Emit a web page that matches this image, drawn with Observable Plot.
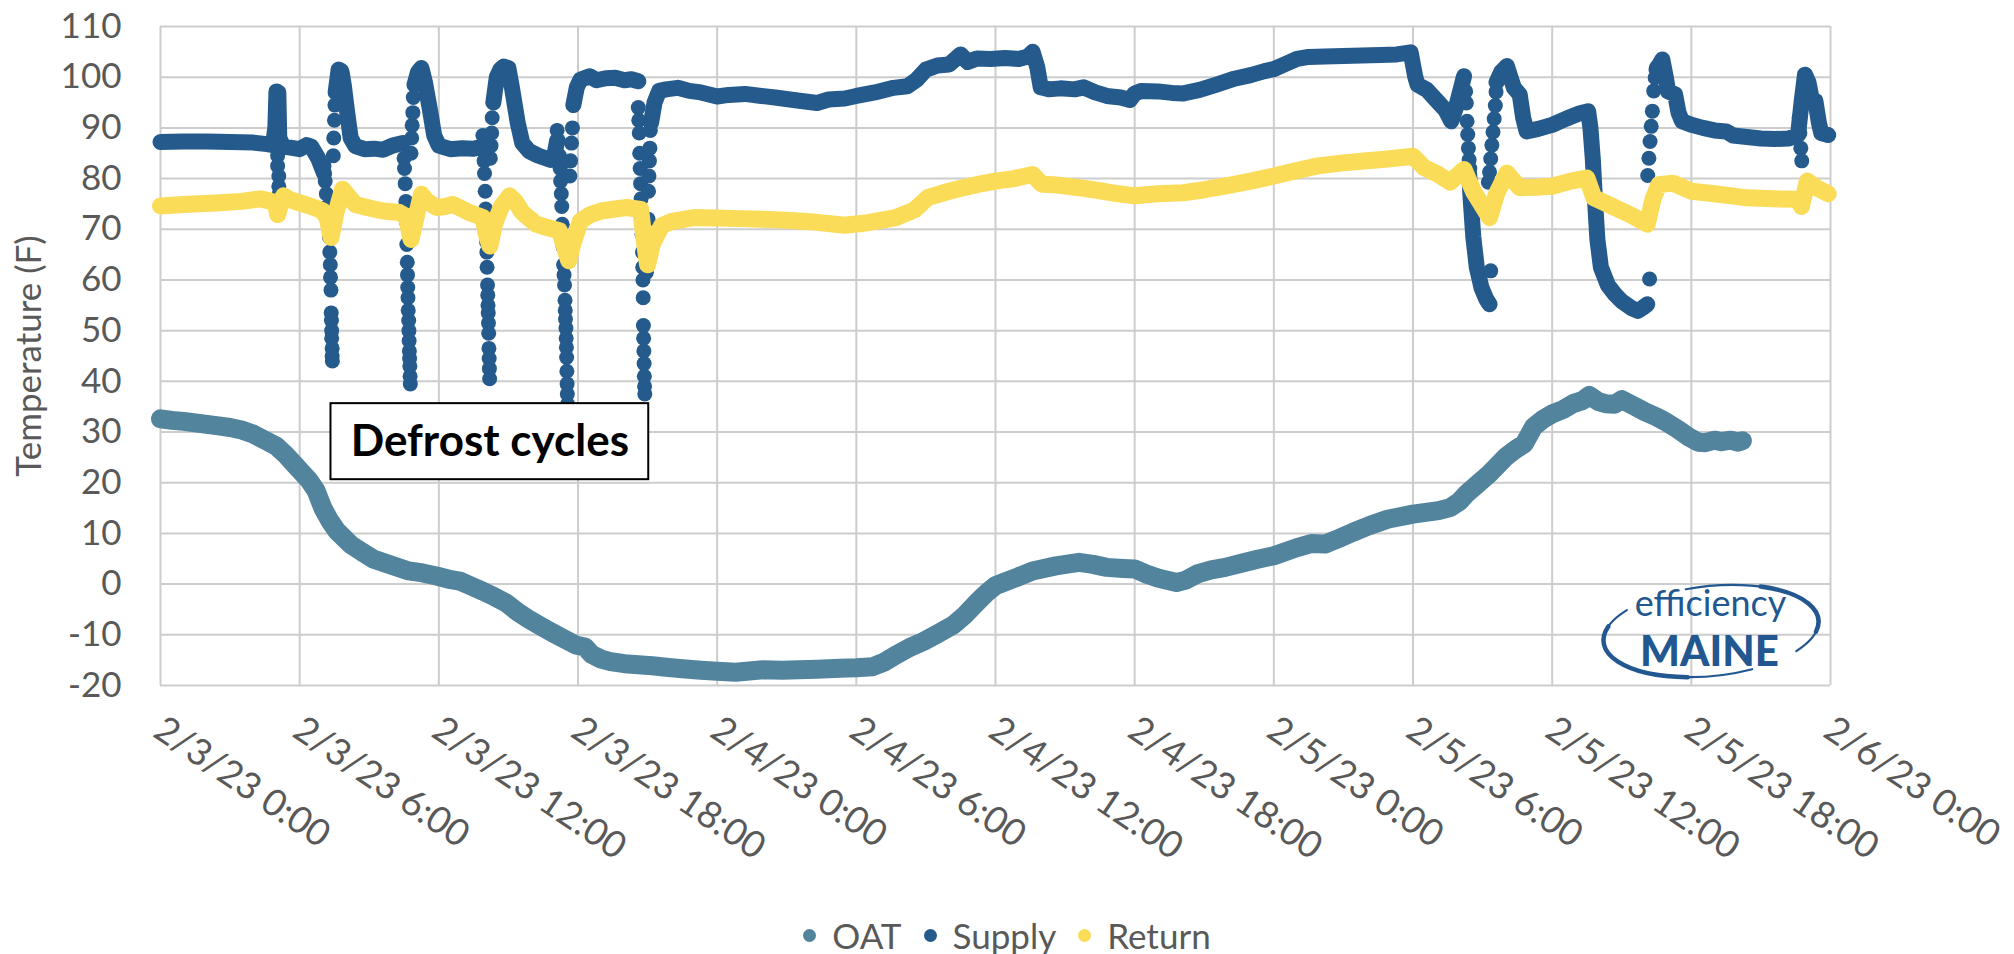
<!DOCTYPE html>
<html>
<head>
<meta charset="utf-8">
<script src="https://cdn.jsdelivr.net/npm/d3@7"></script>
<script src="https://cdn.jsdelivr.net/npm/@observablehq/plot@0.6"></script>
<style>
  html, body { margin: 0; padding: 0; background: #ffffff; }
  body { width: 2014px; height: 954px; overflow: hidden; font-family: Lato, "Open Sans", sans-serif; }
  #legend { display: flex; justify-content: center; align-items: center; height: 70px; font-size: 35px; color: #595959; }
  #legend .item { display: flex; align-items: center; margin: 0 11px; }
  #legend .sw { width: 13px; height: 13px; border-radius: 50%; margin-right: 16px; display: inline-block; }
</style>
</head>
<body>
<div id="chart"></div>
<div id="legend"></div>
<script>
// ---------- Data (hours since 2/3/23 0:00, temperature °F) ----------
const xTicks = [0, 6, 12, 18, 24, 30, 36, 42, 48, 54, 60, 66, 72];
const xTickLabels = ["2/3/23 0:00", "2/3/23 6:00", "2/3/23 12:00", "2/3/23 18:00", "2/4/23 0:00", "2/4/23 6:00",
  "2/4/23 12:00", "2/4/23 18:00", "2/5/23 0:00", "2/5/23 6:00", "2/5/23 12:00", "2/5/23 18:00", "2/6/23 0:00"];
const yTicks = [-20, -10, 0, 10, 20, 30, 40, 50, 60, 70, 80, 90, 100, 110];
const yLabel = "Temperature (F)";
const seriesNames = ["OAT", "Supply", "Return"];
const seriesColors = ["#52849e", "#255a8c", "#fadc58"];
const annotationText = "Defrost cycles";
const logoWords = ["efficiency", "MAINE"];

const oatHours = [0, 0.5, 1, 1.5, 2, 2.5, 3, 3.5, 4, 4.5, 5, 5.4, 5.8, 6.1, 6.4, 6.7, 7, 7.3, 7.6, 8.2, 8.7, 9.2, 9.9,
  10.7, 11.3, 11.9, 12.4, 12.9, 13.4, 13.9, 14.4, 14.9, 15.4, 15.9, 16.4, 16.9, 17.4, 17.9, 18.3, 18.6, 19, 19.4, 20,
  20.6, 21.2, 21.8, 22.5, 23.3, 24, 24.8, 25.5, 26, 26.8, 27.5, 28.3, 29.3, 30, 30.7, 31.2, 31.7, 32.3, 32.9, 33.5,
  34.2, 34.7, 35.2, 35.6, 36, 36.5, 36.9, 37.6, 38.6, 39.6, 40.2, 40.8, 41.5, 42, 42.5, 43, 43.8, 44.2, 44.7, 45.3,
  45.9, 46.6, 47.3, 48, 49, 49.6, 50.2, 50.8, 51.4, 52.1, 52.9, 54, 55.1, 55.6, 56, 56.3, 56.8, 57.3, 58, 58.4, 58.8,
  59.2, 59.6, 60, 60.5, 60.9, 61.3, 61.6, 62, 62.3, 62.7, 63, 63.5, 64, 64.5, 64.9, 65.4, 65.9, 66.3, 66.6, 67, 67.3,
  67.7, 68, 68.2];
const oatTemps = [32.6, 32.3, 32.1, 31.8, 31.5, 31.2, 30.9, 30.4, 29.6, 28.4, 27.2, 25.5, 23.5, 22, 20.5, 18.5, 15, 12.5,
  10.5, 7.8, 6.3, 4.9, 3.8, 2.6, 2.2, 1.6, 1.0, 0.6, -0.4, -1.4, -2.5, -3.7, -5.5, -7, -8.3, -9.6, -10.8, -12, -12.4,
  -13.9, -14.8, -15.3, -15.7, -15.9, -16.1, -16.4, -16.7, -17.0, -17.2, -17.4, -17.1, -16.9, -17.0, -16.9, -16.8,
  -16.6, -16.5, -16.3, -15.4, -14, -12.5, -11.3, -9.8, -8, -6, -3.6, -1.8, -0.3, 0.6, 1.3, 2.6, 3.6, 4.3, 3.9, 3.3, 3.1,
  3.0, 2.0, 1.2, 0.3, 0.8, 2.0, 2.8, 3.3, 4.1, 4.9, 5.6, 7.2, 8.0, 7.9, 9.0, 10.2, 11.5, 12.8, 13.8, 14.5, 15.1, 16.3,
  17.8, 19.8, 21.8, 25.1, 26.5, 27.7, 31, 32.5, 33.6, 34.5, 35.6, 36.2, 37.2, 36.0, 35.6, 35.5, 36.4, 35.2, 34.0, 33.0,
  32.0, 30.6, 29.0, 28.0, 27.9, 28.4, 28.1, 28.4, 28.0, 28.3];

// Supply: continuous stretches (null = gap where the readings were sparse)
const supplyHours = [0, 1, 2, 3, 4, 4.6, 4.85, 4.95, 5.0, 5.08, 5.12, 5.3, 5.6, 6.0, 6.3, 6.5, 6.8, 7.05, 7.1,
  7.55, 7.68, 7.8, 7.9, 8.05, 8.2, 8.4, 8.8, 9.2, 9.6, 10.0, 10.45, 10.5,
  10.95, 11.1, 11.25, 11.4, 11.6, 11.8, 12.0, 12.5, 13.0, 13.5, 13.85, 13.9,
  14.35, 14.5, 14.65, 14.8, 15.0, 15.15, 15.4, 15.6, 15.9, 16.3, 16.8, 17.0, 17.1, 17.15,
  17.8, 17.95, 18.1, 18.5, 18.8, 19.2, 19.6, 20.0, 20.3, 20.6, 20.65,
  21.15, 21.3, 21.5, 21.8, 22.3, 22.8, 23.3, 24.0, 24.5, 25.2, 25.9, 26.5, 27.3, 28.3, 28.8, 29.5, 30.0, 30.8, 31.6,
  32.2, 32.6, 33.0, 33.5, 34.0, 34.5, 34.8, 35.2, 35.8, 36.4, 37.0, 37.4, 37.6, 37.8, 37.95, 38.3, 38.8, 39.4, 39.8,
  40.3, 40.8, 41.4, 41.8, 42.0, 42.3, 43.0, 43.6, 44.1, 44.8, 45.5, 46.3, 47.0, 47.6, 48.0, 48.5, 49.0, 49.5, 50.2,
  51.0, 51.8, 52.6, 53.3, 53.9, 54.1, 54.2, 54.6, 55.0, 55.4, 55.65, 55.85, 56.05, 56.2, 56.25,
  56.42, 56.5, 56.6, 56.75, 56.95, 57.15, 57.3, 57.35,
  57.6, 57.8, 58.05, 58.2, 58.35, 58.6, 58.75, 58.9, 59.4, 60.0, 60.6, 61.2, 61.55, 61.65, 61.75, 61.85, 61.95, 62.1,
  62.4, 62.7, 63.0, 63.4, 63.7, 63.9, 64.1, 64.2,
  64.5, 64.75, 64.9, 65.0, 65.3, 65.45, 65.6, 66.0, 66.5, 67.0, 67.5, 67.8, 68.4, 69.0, 69.6, 70.2, 70.6, 70.75, 70.9,
  71.05, 71.2, 71.35, 71.5, 71.6, 71.9];
const supplyTemps = [87.2, 87.3, 87.3, 87.2, 87.1, 86.8, 86.6, 90, 97.2, 97, 88, 86.3, 86.1, 85.8, 86.6, 86.3, 84, 81, null,
  97, 101.5, 101.2, 98.5, 93, 88, 86.4, 85.8, 85.9, 85.7, 86.5, 87, null,
  98.5, 101, 101.8, 99, 94, 88.5, 86.5, 85.8, 86, 85.9, 86.3, null,
  95, 100, 101.5, 102.1, 101.8, 98, 91, 87, 85.4, 84.5, 83.7, 85, 87.5, null,
  94.5, 98, 99.5, 100.2, 99.4, 99.8, 99.9, 99.4, 99.6, 99.2, null,
  91, 95, 97.3, 97.6, 97.9, 97.3, 97, 96.2, 96.5, 96.7, 96.3, 96, 95.5, 94.9, 95.6, 95.8, 96.3, 97, 97.9,
  98.2, 99.5, 101.5, 102.3, 102.5, 104.5, 103, 103.7, 103.6, 103.8, 103.6, 104.1, 105, 102, 98, 97.6, 97.8, 97.6, 98,
  97, 96.3, 96, 95.5, 96.8, 97.3, 97.2, 96.9, 96.8, 97.5, 98.5, 99.7, 100.4, 101.2, 101.6, 102.6, 103.6, 104.0, 104.1,
  104.2, 104.3, 104.4, 104.5, 104.9, 100, 98.5, 97.5, 95.5, 93.5, 91.3, 94, 97.5, 100.2, null,
  81, 75, 68.5, 62.5, 58.5, 56.3, 55.2, null,
  99, 101, 102.2, 100, 97.9, 96.6, 92, 89.3, 89.8, 90.6, 91.8, 92.9, 93.3, 90, 84, 75.5, 68, 62.5,
  59, 57.2, 55.8, 54.5, 53.9, 54.5, 55.2, null,
  101.5, 103.5, 100, 97.2, 96.6, 93, 91.3, 90.6, 90, 89.5, 89.3, 88.5, 88.2, 87.9, 87.8, 87.9, 88.6, 95, 100.5,
  99, 95.5, 95.3, 91, 89, 88.6];

// Supply: individual readings during defrost drops and recoveries
const defrostHours = [5.05, 5.05, 5.1, 5.1, 5.12,
  7.05, 7.1, 7.15, 7.2, 7.25, 7.28, 7.3, 7.32, 7.33, 7.35, 7.36, 7.37, 7.38, 7.38, 7.4, 7.4, 7.41,
  7.45, 7.47, 7.5, 7.52, 7.55,
  10.5, 10.52, 10.55, 10.58, 10.6, 10.62, 10.64, 10.65, 10.66, 10.67, 10.68, 10.7, 10.71, 10.72, 10.73, 10.74, 10.75,
  10.76, 10.77, 10.8, 10.83, 10.85, 10.88, 10.9, 10.95,
  13.9, 13.92, 13.95, 13.97, 14.0, 14.02, 14.04, 14.06, 14.07, 14.08, 14.1, 14.11, 14.12, 14.13, 14.14, 14.15, 14.16,
  14.17, 14.18, 14.19, 14.22, 14.25, 14.28, 14.3, 14.35,
  17.1, 17.15, 17.2, 17.23, 17.25, 17.28, 17.3, 17.32, 17.34, 17.36, 17.38, 17.4, 17.42, 17.44, 17.45, 17.46, 17.48,
  17.49, 17.5, 17.51, 17.52, 17.53, 17.54, 17.55, 17.56, 17.65, 17.68, 17.72, 17.76, 17.8,
  20.6, 20.62, 20.64, 20.66, 20.68, 20.7, 20.72, 20.74, 20.76, 20.78, 20.79, 20.8, 20.81, 20.82, 20.83, 20.84, 20.85,
  20.86, 20.87, 20.88, 20.95, 20.97, 21.0, 21.02, 21.04, 21.06, 21.08, 21.1, 21.12, 21.15,
  56.27, 56.3, 56.33, 56.36, 56.39, 56.42, 56.45,
  57.35,
  57.25, 57.3, 57.35, 57.4, 57.45, 57.5, 57.55, 57.58, 57.62,
  64.2,
  64.12, 64.17, 64.22, 64.27, 64.32, 64.38, 64.44, 64.5,
  70.65, 70.68, 70.72, 70.76];
const defrostTemps = [84.5, 82.5, 80.5, 78.5, 77,
  82.5, 79.5, 77, 74.5, 71.5, 68.5, 65.5, 63, 60.5, 58, 53.5, 52, 50, 48.5, 46.5, 45, 44,
  84.5, 88, 91.5, 94.5, 97,
  84, 82, 79, 75.5, 71.5, 67, 63.5, 61, 58.5, 56.5, 54, 52, 50, 48, 46, 44.5, 43,
  41, 39.5, 85, 88, 90.5, 93, 96, 98.5,
  88.5, 85.5, 83.5, 81, 77.5, 74, 70.5, 67.5, 65.5, 62.5, 59, 57, 55, 53.5, 51.5, 49.5, 46.5,
  44.5, 42.5, 40.5, 84, 86.5, 89, 92, 95,
  89.5, 87.5, 84.5, 82, 79.5, 77, 74.5, 71, 68.5, 66.5, 63, 61, 59, 56, 54, 52.3, 50.5,
  48.5, 46.7, 44.7, 42, 39.5, 37.5, 35.5, 34.5, 80.5, 83.5, 87, 90, 94.5,
  94, 91.5, 89, 85, 82, 79, 76, 72.5, 69, 65.5, 62.5, 60, 56.5, 51, 48.5, 46, 43.5,
  41, 39, 37.5, 61.5, 64.5, 67, 72, 77.5, 80.5, 83.5, 86, 89.5, 91,
  97.2, 94.9, 91.3, 88.7, 86, 83.7, 82,
  61.8,
  79.3, 81.3, 83.9, 86.6, 89.2, 91.8, 94.4, 97.1, 99,
  60.2,
  80.6, 84, 87.3, 90.3, 93.3, 97.3, 99.9, 101.9,
  92, 89, 86, 83.5];

const returnHours = [0, 1, 2.4, 3.5, 4.3, 4.7, 4.95, 5.05, 5.15, 5.3, 5.6, 6.0, 6.5, 7.0, 7.2, 7.35, 7.55, 7.85, 8.1,
  8.4, 9.0, 9.6, 10.3, 10.6, 10.8, 11.0, 11.25, 11.5, 11.9, 12.3, 12.6, 13.0, 13.3, 13.9, 14.05, 14.2, 14.4, 14.7,
  15.05, 15.3, 15.6, 16.2, 16.7, 17.2, 17.45, 17.6, 17.8, 18.1, 18.5, 19, 19.6, 20.1, 20.7, 20.85, 21.0, 21.2, 21.6,
  22, 23, 24, 25, 25.9, 27, 28, 29.5, 30.5, 31.7, 32.5, 33.1, 34, 34.6, 35.3, 36, 36.8, 37.6, 38.0, 38.5, 39.6, 40.5,
  41.3, 42, 43, 44.1, 45, 46, 47, 48, 49, 49.9, 51, 52, 52.8, 54, 54.5, 55.1, 55.6, 56.2, 56.6, 57.3, 57.6, 58.05,
  58.6, 59.3, 60, 60.8, 61.5, 61.8, 62.7, 63.4, 64.1, 64.35, 64.6, 65.2, 66, 67, 68.4, 69.5, 70.6, 70.75, 71.0, 71.4,
  71.9];
const returnTemps = [74.6, 74.9, 75.2, 75.5, 76.0, 75.6, 75.2, 72.9, 74.5, 76.6, 75.8, 75.2, 74.5, 73.6, 72, 68.4, 73,
  77.9, 76.5, 74.9, 74.2, 73.6, 73.3, 72.5, 68, 72, 76.9, 75.5, 74.3, 74.5, 74.9, 74, 73.3, 72.3, 69, 66.7, 71, 74.5,
  76.6, 75.5, 73.3, 71, 70.3, 69.7, 66, 63.8, 67.5, 71.6, 72.8, 73.6, 74, 74.3, 73.9, 68, 63, 67, 70.7, 71.5, 72.3,
  72.2, 72.1, 72, 71.8, 71.5, 70.8, 71.3, 72.3, 73.8, 76.3, 77.5, 78.2, 78.9, 79.5, 80, 80.8, 78.9, 78.8, 78.2, 77.6,
  77, 76.6, 77, 77.2, 77.8, 78.6, 79.5, 80.5, 81.6, 82.5, 83.1, 83.5, 83.8, 84.4, 82.1, 80.8, 79.3, 81.8, 77.5, 72.3,
  77, 81.1, 78.2, 78.3, 78.5, 79.5, 80.1, 76.2, 74.3, 72.8, 71, 76, 78.8, 79.1, 77.5, 77, 76.2, 76, 75.9, 74.5, 79.5,
  78.2, 77];

// Annotation box in data coordinates
const annotationBox = [{x1: 7.35, x2: 21.05, y1: 20.6, y2: 35.6}];

// ---------- Tables built from the arrays ----------
const oat = oatHours.map((h, i) => ({h, v: oatTemps[i]}));
const supply = supplyHours.map((h, i) => ({h, v: supplyTemps[i]}));
const defrost = defrostHours.map((h, i) => ({h, v: defrostTemps[i]}));
const ret = returnHours.map((h, i) => ({h, v: returnTemps[i]}));

const axisGrey = "#595959";
const gridGrey = "#cdcdcd";
const logoBlue = "#22578f";

function swoosh(index, scales, values, dims) {
  const cx = dims.width - dims.marginRight - 119;
  const cy = dims.height - dims.marginBottom - 54;
  const rx = 108, ry = 45;
  const p = a => [rx * Math.cos(a * Math.PI / 180), ry * Math.sin(a * Math.PI / 180)].map(v => v.toFixed(2)).join(",");
  const g = d3.create("svg:g").attr("transform", `translate(${cx},${cy}) rotate(-6)`)
    .attr("fill", "none").attr("stroke", logoBlue).attr("stroke-linecap", "round");
  g.append("path").attr("d", `M${p(221)}A${rx},${ry} 0 0 0 ${p(70)}`).attr("stroke-width", 2.2);
  g.append("path").attr("d", `M${p(200)}A${rx},${ry} 0 0 0 ${p(105)}`).attr("stroke-width", 4.5);
  g.append("path").attr("d", `M${p(259)}A${rx},${ry} 0 0 1 ${p(40)}`).attr("stroke-width", 2.2);
  g.append("path").attr("d", `M${p(300)}A${rx},${ry} 0 0 1 ${p(15)}`).attr("stroke-width", 4.5);
  return g.node();
}

const chart = Plot.plot({
  width: 2014,
  height: 900,
  marginLeft: 160,
  marginRight: 184,
  marginTop: 26,
  marginBottom: 215,
  x: {domain: [0, 72], axis: null},
  y: {domain: [-20, 110], axis: null},
  style: {fontFamily: "Lato, 'Open Sans', sans-serif", background: "#ffffff", color: axisGrey, overflow: "visible"},
  marks: [
    Plot.ruleX(xTicks, {x: d => d, stroke: gridGrey, strokeWidth: 2}),
    Plot.ruleY(yTicks, {y: d => d, stroke: gridGrey, strokeWidth: 2}),
    Plot.line(oat, {x: "h", y: "v", stroke: seriesColors[0], strokeWidth: 19, strokeLinecap: "round", strokeLinejoin: "round"}),
    Plot.line(supply, {x: "h", y: "v", stroke: seriesColors[1], strokeWidth: 16, strokeLinecap: "round", strokeLinejoin: "round"}),
    Plot.dot(defrost, {x: "h", y: "v", r: 7.5, fill: seriesColors[1]}),
    Plot.line(ret, {x: "h", y: "v", stroke: seriesColors[2], strokeWidth: 17, strokeLinecap: "round", strokeLinejoin: "round"}),
    // y tick labels
    Plot.text(yTicks, {y: d => d, text: d => String(d), frameAnchor: "left", dx: -39, textAnchor: "end", lineAnchor: "middle", fontSize: 35, fill: axisGrey}),
    // x tick labels (rotated)
    Plot.text(xTicks, {x: d => d, text: (d, i) => xTickLabels[i], frameAnchor: "bottom", dx: -9, dy: 50, rotate: 34, textAnchor: "start", fontSize: 37, fill: axisGrey}),
    // y axis title
    Plot.text([yLabel], {text: d => d, frameAnchor: "left", dx: -131, rotate: -90, textAnchor: "middle", lineAnchor: "middle", fontSize: 35, fill: axisGrey}),
    // annotation
    Plot.rect(annotationBox, {x1: "x1", x2: "x2", y1: "y1", y2: "y2", fill: "#ffffff", stroke: "#000000", strokeWidth: 2}),
    Plot.text(annotationBox, {x: d => (d.x1 + d.x2) / 2, y: d => (d.y1 + d.y2) / 2, text: () => annotationText, fontSize: 44, fontWeight: "bold", fill: "#000000"}),
    // logo
    swoosh,
    Plot.text([logoWords[0]], {text: d => d, frameAnchor: "bottom-right", dx: -120, dy: -81, textAnchor: "middle", lineAnchor: "middle", fontSize: 36, fill: logoBlue}),
    Plot.text([logoWords[1]], {text: d => d, frameAnchor: "bottom-right", dx: -121, dy: -33, textAnchor: "middle", lineAnchor: "middle", fontSize: 42, fontWeight: 900, fill: logoBlue})
  ]
});
document.getElementById("chart").appendChild(chart);

// ---------- Legend ----------
const legend = d3.select("#legend");
seriesNames.forEach((name, i) => {
  const item = legend.append("span").attr("class", "item");
  item.append("span").attr("class", "sw").style("background", seriesColors[i]);
  item.append("span").text(name);
});
</script>
</body>
</html>
